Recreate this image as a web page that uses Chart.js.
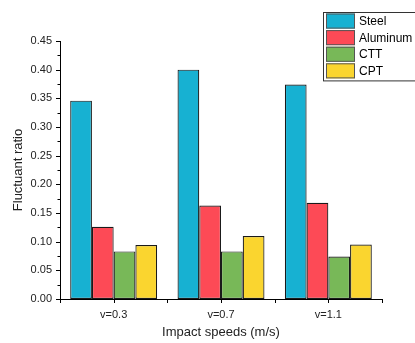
<!DOCTYPE html>
<html>
<head>
<meta charset="utf-8">
<script src="https://cdn.jsdelivr.net/npm/chart.js@4/dist/chart.umd.min.js"></script>
<style>
  html, body { margin: 0; padding: 0; background: #fff; }
  #wrap { width: 415px; height: 343px; }
</style>
</head>
<body>
<div id="wrap"><canvas id="myChart" width="415" height="343"></canvas></div>
<script>
const speeds = ['v=0.3', 'v=0.7', 'v=1.1'];
const steel = [0.346, 0.400, 0.374];
const aluminum = [0.126, 0.163, 0.168];
const ctt = [0.083, 0.083, 0.074];
const cpt = [0.094, 0.110, 0.095];

const seriesNames = ['Steel', 'Aluminum', 'CTT', 'CPT'];
const seriesColors = ['#17b1d2', '#fd4a56', '#78b858', '#fad52f'];
const yTicks = [0, 0.05, 0.1, 0.15, 0.2, 0.25, 0.3, 0.35, 0.4, 0.45];

const font = 'Liberation Sans, Arial, sans-serif';

// minor ticks + category ticks, drawn off the scales
const tickPlugin = {
  id: 'ticks',
  afterDraw(chart) {
    const ctx = chart.ctx;
    const x = chart.scales.x;
    const y = chart.scales.y;
    ctx.save();
    ctx.strokeStyle = '#000';
    ctx.lineWidth = 1;
    ctx.beginPath();
    for (let i = 0; i < yTicks.length; i++) {
      const py = Math.round(y.getPixelForValue(yTicks[i])) + 0.5;
      ctx.moveTo(x.left - 4, py);
      ctx.lineTo(x.left, py);
      if (i < yTicks.length - 1) {
        const pm = Math.round(y.getPixelForValue(yTicks[i] + 0.025)) + 0.5;
        ctx.moveTo(x.left - 2.5, pm);
        ctx.lineTo(x.left, pm);
      }
    }
    const step = (x.right - x.left) / speeds.length;
    for (let i = 0; i < speeds.length; i++) {
      const pc = Math.round(x.getPixelForValue(i)) + 0.5;
      ctx.moveTo(pc, y.bottom);
      ctx.lineTo(pc, y.bottom + 4);
    }
    for (let i = 0; i <= speeds.length; i++) {
      const pb = Math.round(x.left + step * i) + 0.5;
      ctx.moveTo(pb, y.bottom);
      ctx.lineTo(pb, y.bottom + 4);
    }
    ctx.stroke();
    ctx.restore();
  }
};

// boxed legend at top right
const legendPlugin = {
  id: 'boxLegend',
  afterDraw(chart) {
    const ctx = chart.ctx;
    const left = 323, top = 12, rowH = 16.6;
    ctx.save();
    ctx.strokeStyle = '#333';
    ctx.lineWidth = 1;
    ctx.strokeRect(left + 0.5, top + 0.5, 120, rowH * 4 + 2);
    chart.data.datasets.forEach((ds, i) => {
      const ry = top + 1.5 + i * rowH;
      ctx.fillStyle = ds.backgroundColor;
      ctx.fillRect(326, ry, 29, rowH - 1.5);
      ctx.strokeStyle = '#555';
      ctx.strokeRect(326.5, ry + 0.5, 28, rowH - 2.5);
      ctx.fillStyle = '#000';
      ctx.font = '12px ' + font;
      ctx.textBaseline = 'middle';
      ctx.fillText(ds.label, 359, ry + rowH / 2);
    });
    ctx.restore();
  }
};

const chartData = {
  labels: speeds,
  datasets: [
    { label: seriesNames[0], data: steel },
    { label: seriesNames[1], data: aluminum },
    { label: seriesNames[2], data: ctt },
    { label: seriesNames[3], data: cpt },
  ].map((ds, i) => Object.assign(ds, {
    backgroundColor: seriesColors[i],
    borderColor: '#1a1a1a',
    borderWidth: 1.2,
    borderSkipped: false,
    barPercentage: 1,
    categoryPercentage: 0.81,
  })),
};

const config = {
  type: 'bar',
  data: chartData,
  options: {
    responsive: false,
    animation: false,
    layout: { padding: { top: 41, right: 33, left: 0, bottom: 0 } },
    plugins: {
      legend: { display: false },
      tooltip: { enabled: false },
    },
    scales: {
      x: {
        grid: { display: false, tickLength: 0 },
        border: { display: true, color: '#000', width: 1 },
        ticks: { color: '#222', font: { family: font, size: 11 }, padding: 9 },
        title: {
          display: true,
          text: 'Impact speeds (m/s)',
          color: '#222',
          font: { family: font, size: 13 },
          padding: { top: 0, bottom: 3 },
        },
        afterFit(scale) { scale.height = 44; },
      },
      y: {
        min: 0,
        max: 0.45,
        grid: { display: false, tickLength: 0 },
        border: { display: true, color: '#000', width: 1 },
        ticks: {
          stepSize: 0.05,
          color: '#222',
          font: { family: font, size: 11 },
          padding: 8,
          callback: (v) => v.toFixed(2),
        },
        title: {
          display: true,
          text: 'Fluctuant ratio',
          color: '#222',
          font: { family: font, size: 13 },
          padding: { top: 11, bottom: 0 },
        },
        afterFit(scale) { scale.width = 60; },
      },
    },
  },
  plugins: [tickPlugin, legendPlugin],
};

const ctx = document.getElementById('myChart').getContext('2d');
const myChart = new Chart(ctx, config);
</script>
</body>
</html>
